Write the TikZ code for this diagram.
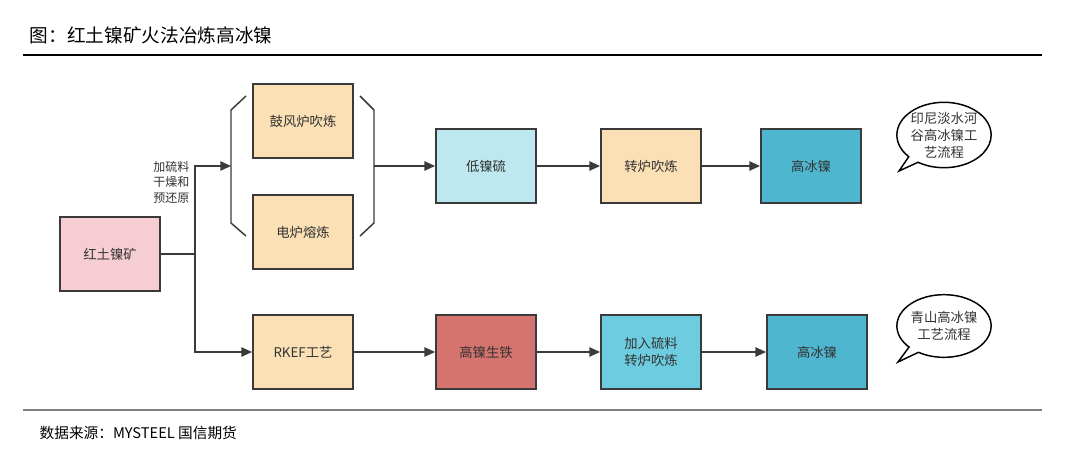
\documentclass[tikz,border=0pt]{standalone}
\usepackage{fontspec}
\setmainfont{Noto Sans CJK SC}
\usetikzlibrary{arrows.meta,shapes.callouts}
\definecolor{boxline}{HTML}{3A3A3A}
\definecolor{boxtext}{HTML}{333333}
\definecolor{orefill}{HTML}{F6CDD2}
\definecolor{tanfill}{HTML}{FAE0B4}
\definecolor{paleblue}{HTML}{BDE8EF}
\definecolor{redfill}{HTML}{D5736F}
\definecolor{midblue}{HTML}{6DCCE0}
\definecolor{deepblue}{HTML}{4FB6CF}
\begin{document}
\begin{tikzpicture}[x=0.75pt,y=-0.75pt,
    procbox/.style={draw=boxline, line width=1.4pt, minimum width=75pt, minimum height=56pt,
      inner sep=0pt, align=center, text=boxtext, font=\fontsize{10}{12.75}\selectfont},
    flow/.style={draw=boxline, line width=1.1pt, -{Triangle[length=8pt,width=7pt]}},
    brk/.style={draw=boxline, line width=1.1pt},
    talk/.style={ellipse callout, draw=black, line width=1.1pt, fill=white, minimum width=69pt,
      minimum height=47pt, inner sep=0pt, align=center, text=boxtext,
      font=\fontsize{10}{12.75}\selectfont}]
  \useasboundingbox (0,0) rectangle (1080,467);
  % title and rules
  \node[anchor=west, font=\fontsize{14}{16}\selectfont] (title) at (25,35) {图：红土镍矿火法冶炼高冰镍};
  \draw[line width=1.3pt] (23,55) -- (1042,55);
  \draw[line width=0.9pt, gray] (23,410) -- (1042,410);
  \node[anchor=west, font=\fontsize{11}{12}\selectfont] (source) at (35,433) {数据来源：MYSTEEL 国信期货};
  % boxes
  \node[procbox, fill=orefill] (ore) at (110,254) {红土镍矿};
  \node[procbox, fill=tanfill] (blast) at (303,121) {鼓风炉吹炼};
  \node[procbox, fill=tanfill] (elec) at (303,232) {电炉熔炼};
  \node[procbox, fill=paleblue] (lowmatte) at (486,166) {低镍硫};
  \node[procbox, fill=tanfill] (conv) at (651,166) {转炉吹炼};
  \node[procbox, fill=deepblue] (hnmA) at (811,166) {高冰镍};
  \node[procbox, fill=tanfill] (rkef) at (303,352) {RKEF工艺};
  \node[procbox, fill=redfill] (npi) at (486,352) {高镍生铁};
  \node[procbox, fill=midblue] (sconv) at (651,352) {加入硫料\\转炉吹炼};
  \node[procbox, fill=deepblue] (hnmB) at (817,352) {高冰镍};
  % brackets round the two furnaces
  \draw[brk] (246,96) -- (231,110) -- (231,223) -- (246,236);
  \draw[brk] (360,96) -- (374,110) -- (374,223) -- (360,236);
  % connectors
  \coordinate (jn) at (195,254);
  \coordinate (lbmid) at (231,166);
  \coordinate (rbmid) at (374,166);
  \draw[brk] (ore.east) -- (jn);
  \draw[flow] (jn) |- (lbmid);
  \draw[flow] (jn) |- (rkef.west);
  \node[anchor=east, align=center, text=boxtext, font=\fontsize{9}{11.6}\selectfont] (prep) at (194,182) {加硫料\\干燥和\\预还原};
  \draw[flow] (rbmid) -- (lowmatte.west);
  \draw[flow] (lowmatte) -- (conv);
  \draw[flow] (conv) -- (hnmA);
  \draw[flow] (rkef) -- (npi);
  \draw[flow] (npi) -- (sconv);
  \draw[flow] (sconv) -- (hnmB);
  % callouts
  \coordinate (tipA) at (899,171);
  \coordinate (tipB) at (898,362);
  \node[talk, callout absolute pointer={(tipA)}] (indo) at (944,135) {印尼淡水河\\谷高冰镍工\\艺流程};
  \node[talk, callout absolute pointer={(tipB)}] (tsing) at (944,326) {青山高冰镍\\工艺流程};
\end{tikzpicture}
\end{document}
